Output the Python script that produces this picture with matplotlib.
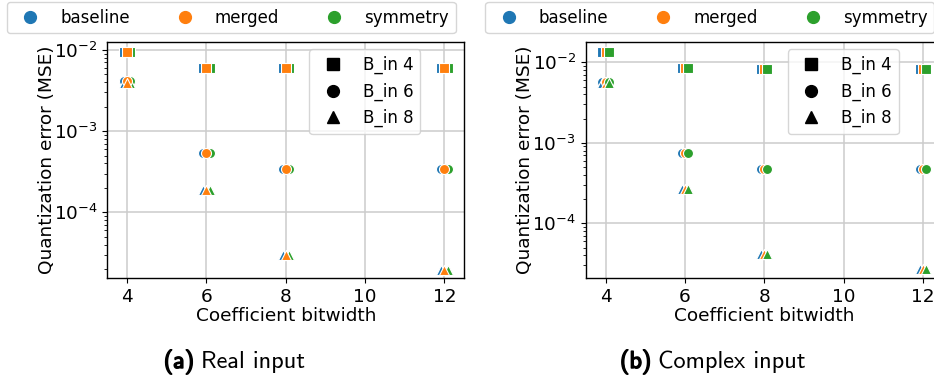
import matplotlib
matplotlib.use("Agg")
import matplotlib.pyplot as plt
from matplotlib.lines import Line2D
import matplotlib.patheffects as pe

# ---- data -------------------------------------------------------------
coef_bits = [4, 6, 8, 12]
methods = ["baseline", "merged", "symmetry"]
method_colors = ["#1f77b4", "#ff7f0e", "#2ca02c"]
method_offsets = [-0.08, 0.0, 0.08]
b_in_levels = [4, 6, 8]
b_in_markers = ["s", "o", "^"]
b_in_labels = ["B_in 4", "B_in 6", "B_in 8"]

# real-valued input: MSE vs coefficient bitwidth, one list per input bitwidth
real_bin4 = [9.5e-3, 6.0e-3, 5.9e-3, 5.9e-3]
real_bin6 = [4.1e-3, 5.45e-4, 3.4e-4, 3.4e-4]
real_bin8 = [3.9e-3, 1.9e-4, 3.0e-5, 1.95e-5]

# complex-valued input
cplx_bin4 = [1.33e-2, 8.6e-3, 8.3e-3, 8.3e-3]
cplx_bin6 = [5.7e-3, 7.5e-4, 4.7e-4, 4.7e-4]
cplx_bin8 = [5.6e-3, 2.67e-4, 4.2e-5, 2.7e-5]

panel_titles = [("(a)", "Real input"), ("(b)", "Complex input")]
x_label = "Coefficient bitwidth"
y_label = "Quantization error (MSE)"

# ---- figure -----------------------------------------------------------
W, H = 934, 380
fig = plt.figure(figsize=(W / 100, H / 100), dpi=100)
plt.rcParams["font.family"] = ["DejaVu Sans"]

shift = 478.5  # horizontal distance between the two sub-panels (px)
ax_l, ax_top, ax_w, ax_bot = 107.3, 41.7, 357.0, 278.3


def px_rect(x0, top, w, bot):
    return [x0 / W, 1 - bot / H, w / W, (bot - top) / H]


def draw_panel(ax, series, order):
    for mi in order:
        for vals, mk in zip(series, b_in_markers):
            xs = [b + method_offsets[mi] for b in coef_bits]
            ax.scatter(xs, vals, marker=mk, s=52, color=method_colors[mi],
                       edgecolors="white", linewidths=0.8, zorder=3)
    ax.set_yscale("log")
    ax.set_xlim(3.5, 12.5)
    ax.set_xticks([4, 6, 8, 10, 12])
    ax.grid(True, which="major", color="#cccccc", linewidth=1.1, zorder=0)
    ax.set_axisbelow(True)
    ax.tick_params(axis="both", which="major", labelsize=13.3, length=3.5)
    ax.set_xlabel(x_label, fontsize=13.3, labelpad=1)
    ax.set_ylabel(y_label, fontsize=13.3)
    for sp in ax.spines.values():
        sp.set_color("black")
        sp.set_linewidth(1.0)
    style_handles = [Line2D([], [], linestyle="none", marker=m, color="black",
                            markersize=8.5) for m in b_in_markers]
    ax.legend(style_handles, b_in_labels, loc="upper right",
              bbox_to_anchor=(0.876, 0.968), borderaxespad=0, fontsize=12,
              handletextpad=0.8, labelspacing=0.5)


panels = [
    ([real_bin4, real_bin6, real_bin8], [0, 2, 1], (-4.81, -1.90)),
    ([cplx_bin4, cplx_bin6, cplx_bin8], [0, 1, 2], (-4.683, -1.744)),
]

hue_handles = [Line2D([], [], linestyle="none", marker="o", color=c,
                      markersize=8.5) for c in method_colors]

for k, (series, order, (lo, hi)) in enumerate(panels):
    dx = k * shift
    ax = fig.add_axes(px_rect(ax_l + dx, ax_top, ax_w, ax_bot))
    draw_panel(ax, series, order)
    ax.set_ylim(10 ** lo, 10 ** hi)
    ax.yaxis.set_label_coords((56 - ax_l) / ax_w, 0.5)

    # method legend above each panel
    fig.legend(hue_handles, methods, loc="center", mode="expand", ncol=3,
               bbox_to_anchor=((6.7 + dx) / W, 1 - 32.7 / H, 449 / W, 30 / H),
               borderaxespad=0, fontsize=12, handletextpad=0.8)

# captions under each panel
fig.canvas.draw()
renderer = fig.canvas.get_renderer()
cap_y = 1 - 362 / H
for k, (tag, name) in enumerate(panel_titles):
    cx = 234.5 + k * shift
    t1 = fig.text(0, cap_y, tag, family="cmss10", fontsize=17.5, va="center",
                  ha="left")
    t1.set_path_effects([pe.withStroke(linewidth=1.0, foreground="black")])
    t2 = fig.text(0, cap_y, name, family="cmss10", fontsize=17.5, va="center",
                  ha="left")
    w1 = t1.get_window_extent(renderer).width
    w2 = t2.get_window_extent(renderer).width
    gap = 7.0
    total = w1 + gap + w2
    x0 = cx - total / 2
    t1.set_x(x0 / W)
    t2.set_x((x0 + w1 + gap) / W)

fig.savefig("out.png", dpi=100)
